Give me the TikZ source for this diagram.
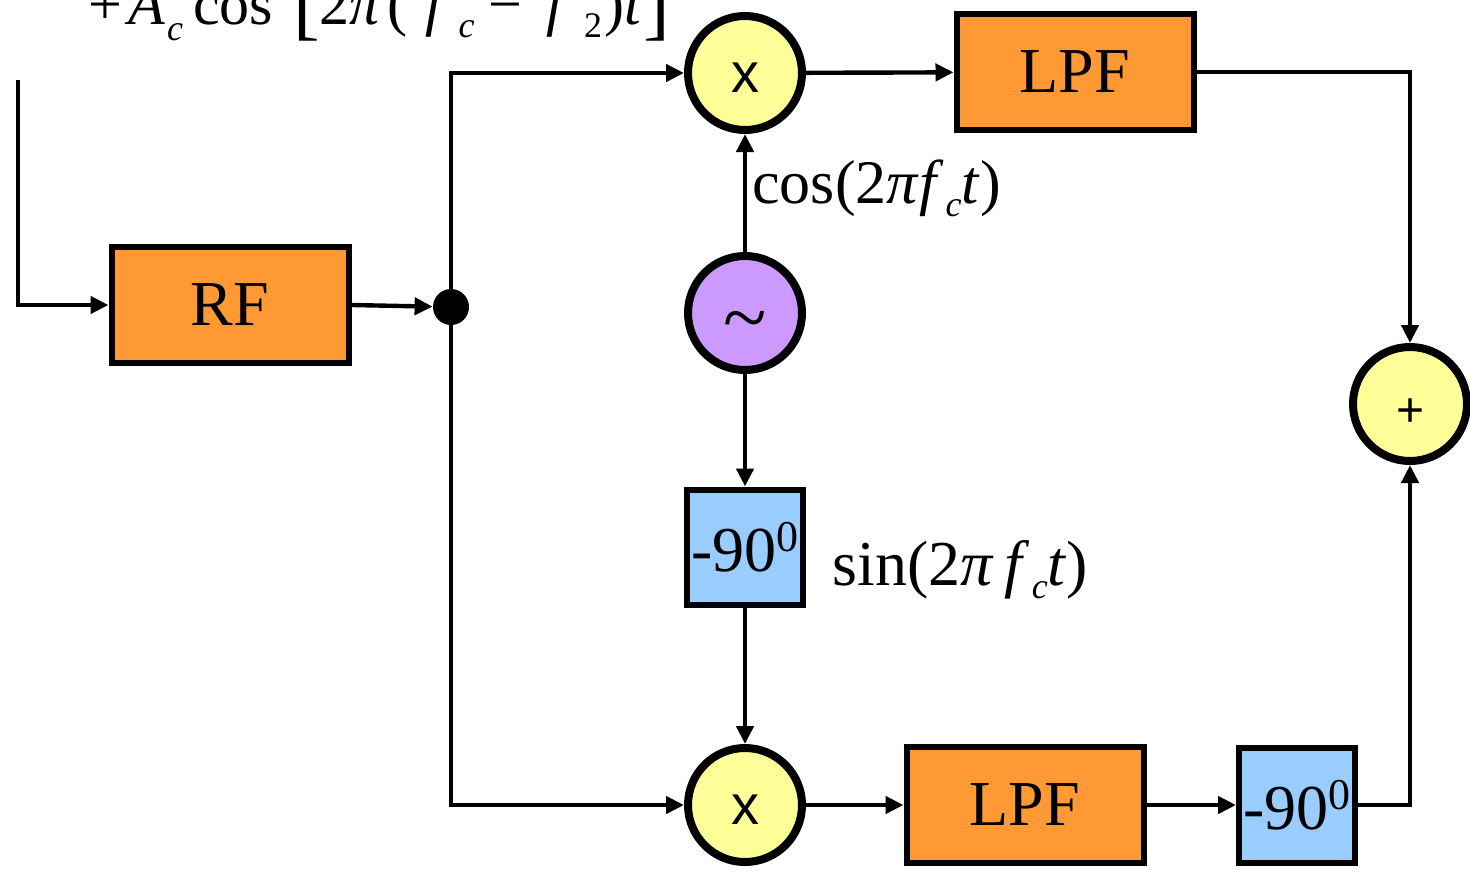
\documentclass[tikz,border=0pt]{standalone}
\usepackage{fontspec}
\setmainfont{Liberation Serif}
\newfontfamily\arialfont{Liberation Sans}
\usetikzlibrary{arrows.meta,positioning}
\definecolor{boxorange}{HTML}{FF9933}
\definecolor{mixyellow}{HTML}{FFFF99}
\definecolor{osclilac}{HTML}{CC99FF}
\definecolor{phaseblue}{HTML}{99CCFF}
\newcommand{\lowsub}[1]{\raisebox{-6.5pt}{\fontsize{18}{18}\selectfont #1}}
\newcommand{\hisup}[1]{\raisebox{10pt}{\fontsize{22}{22}\selectfont #1}}
\newcommand{\bigbr}[1]{\raisebox{-3pt}{\fontsize{40}{40}\selectfont #1}}

\tikzset{
  block/.style={draw, line width=3pt, fill=boxorange, minimum width=118.5pt, minimum height=58pt, inner sep=0pt, font=\fontsize{32}{38}\selectfont},
  phasebox/.style={block, fill=phaseblue, minimum width=58pt, minimum height=57.5pt},
  mixer/.style={draw, circle, line width=4pt, fill=mixyellow, minimum size=57pt, inner sep=0pt, font=\arialfont\fontsize{28}{30}\selectfont, text height=19.5pt, text depth=0pt},
  sig/.style={line width=2.2pt, -{Triangle[length=9pt,width=8.5pt]}},
  lbl/.style={anchor=base west, inner sep=0pt, font=\fontsize{32}{38}\selectfont},
}

\begin{document}
\begin{tikzpicture}[x=0.5pt,y=-0.5pt]
  \useasboundingbox (0,0) rectangle (1470,872);

  % received signal
  \node[lbl, font=\fontsize{30}{36}\selectfont] (rxtext) at (88,25) {+\hspace{3pt}\textit{A}\hspace{1pt}\raisebox{-1.5pt}{\lowsub{\textit{c}}}\hspace{5pt}cos\hspace{10pt}\bigbr{[}2\textit{π}\hspace{3pt}(\hspace{9pt}\textit{f}\hspace{5pt}\lowsub{\textit{c}}\hspace{7pt}−\hspace{12pt}\textit{f}\hspace{7pt}\lowsub{2}\hspace{1pt})\textit{t}\hspace{1pt}\bigbr{]}};
  \coordinate (rxin) at (18,80);

  % blocks
  \node[block] (rf) at (230,305) {RF};
  \node[circle, fill=black, inner sep=0pt, minimum size=18pt] (split) at (451,307) {};
  \node[mixer] (mixtop) at (745,73) {x};
  \node[block] (lpftop) at (1075,72) {LPF};
  \node[mixer, fill=osclilac, font=\fontsize{40}{44}\selectfont, text height=31pt] (osc) at (745,313) {\textasciitilde};
  \node[phasebox] (shiftmid) at (745,547) {-90\hisup{0}};
  \node[mixer] (mixbot) at (745,805) {x};
  \node[block] (lpfbot) at (1025,805) {LPF};
  \node[phasebox] (shiftbot) at (1297,805) {-90\hisup{0}};
  \node[mixer, font=\arialfont\fontsize{24}{26}\selectfont, text height=22.8pt] (sum) at (1410,404) {+};

  % carrier labels
  \node[lbl, font=\fontsize{31}{36}\selectfont] (coslbl) at (752,203) {cos(2\textit{π}\textit{f}\hspace{1pt}\lowsub{\textit{c}}\textit{t})};
  \node[lbl] (sinlbl) at (832,585) {sin(2\textit{π}\,\textit{f}\hspace{1pt}\lowsub{\textit{c}}\textit{t})};

  % connections
  \draw[sig] (rxin) |- (rf.west);
  \draw[sig] (rf.east) -- (split);
  \draw[sig] (split) |- (mixtop.west);
  \draw[sig] (split) |- (mixbot.west);
  \draw[sig] (mixtop) -- (lpftop);
  \draw[sig] (lpftop.east) -| (sum.north);
  \draw[sig] (osc) -- (mixtop);
  \draw[sig] (osc) -- (shiftmid);
  \draw[sig] (shiftmid) -- (mixbot);
  \draw[sig] (mixbot) -- (lpfbot);
  \draw[sig] (lpfbot) -- (shiftbot);
  \draw[sig] (shiftbot.east) -| (sum.south);
\end{tikzpicture}
\end{document}
